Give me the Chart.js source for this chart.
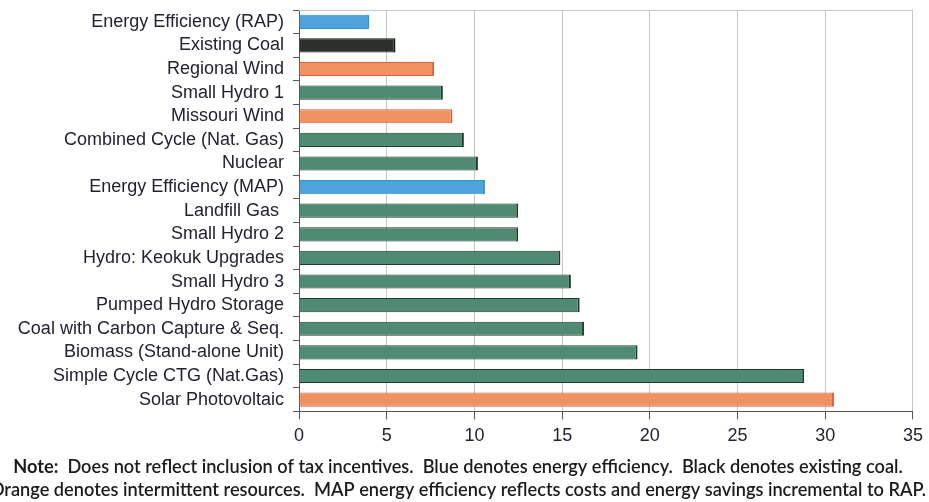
<!DOCTYPE html>
<html>
<head>
<meta charset="utf-8">
<script src="https://cdn.jsdelivr.net/npm/chart.js@4/dist/chart.umd.min.js"></script>
<style>
  html, body { margin: 0; padding: 0; background: #fff; overflow: hidden; }
  #wrap { width: 929px; height: 502px; position: relative; }
</style>
</head>
<body>
<div id="wrap"><canvas id="c"></canvas></div>
<script>
// Resources, ordered from cheapest to most expensive
const categories = [
  'Energy Efficiency (RAP)',
  'Existing Coal',
  'Regional Wind',
  'Small Hydro 1',
  'Missouri Wind',
  'Combined Cycle (Nat. Gas)',
  'Nuclear',
  'Energy Efficiency (MAP)',
  'Landfill Gas ',
  'Small Hydro 2',
  'Hydro: Keokuk Upgrades',
  'Small Hydro 3',
  'Pumped Hydro Storage',
  'Coal with Carbon Capture & Seq.',
  'Biomass (Stand-alone Unit)',
  'Simple Cycle CTG (Nat.Gas)',
  'Solar Photovoltaic'
];

// Levelized cost of each resource
const costValues = [4.0, 5.5, 7.7, 8.2, 8.75, 9.4, 10.2, 10.6, 12.5, 12.5, 14.9, 15.5, 16.0, 16.25, 19.3, 28.8, 30.5];

// Resource type of each bar (sets its colour)
const resourceType = [
  'efficiency', 'coal', 'intermittent', 'other', 'intermittent', 'other', 'other', 'efficiency',
  'other', 'other', 'other', 'other', 'other', 'other', 'other', 'other', 'intermittent'
];

const xTickValues = [0, 5, 10, 15, 20, 25, 30, 35];

const noteLines = [
  ['Note:', '  Does not reflect inclusion of tax incentives.  Blue denotes energy efficiency.  Black denotes existing coal.'],
  ['', 'Orange denotes intermittent resources.  MAP energy efficiency reflects costs and energy savings incremental to RAP.']
];

const fills = { efficiency: '#4ea3dc', coal: '#2b302c', intermittent: '#ef9160', other: '#4f8a72' };
const edges = { efficiency: '#3a8fcf', coal: '#141814', intermittent: '#d9603a', other: '#1f3d2f' };

// Top border of the plot area
const plotFrame = {
  id: 'plotFrame',
  afterDatasetsDraw(chart) {
    const { ctx, chartArea: a } = chart;
    ctx.save();
    ctx.strokeStyle = '#c6c6c6';
    ctx.lineWidth = 1;
    ctx.beginPath();
    ctx.moveTo(a.left, a.top + 0.5);
    ctx.lineTo(a.right, a.top + 0.5);
    ctx.stroke();
    ctx.restore();
  }
};

// Two-line footnote under the axis
const footNote = {
  id: 'footNote',
  afterDraw(chart) {
    const { ctx } = chart;
    const cx = 458;
    const ys = [467, 490];
    ctx.save();
    ctx.textBaseline = 'middle';
    ctx.fillStyle = '#1c1c1c';
    noteLines.forEach((parts, i) => {
      const boldFont = 'bold 18.2px Lato';
      const normFont = '600 18.2px Lato';
      ctx.font = boldFont;
      const w0 = ctx.measureText(parts[0]).width;
      ctx.font = normFont;
      const w1 = ctx.measureText(parts[1]).width;
      const x = cx - (w0 + w1) / 2;
      ctx.textAlign = 'left';
      ctx.font = boldFont;
      ctx.fillText(parts[0], x, ys[i]);
      ctx.font = normFont;
      ctx.fillText(parts[1], x + w0, ys[i]);
    });
    ctx.restore();
  }
};

new Chart(document.getElementById('c'), {
  type: 'bar',
  data: {
    labels: categories,
    datasets: [{
      data: costValues,
      backgroundColor: resourceType.map(t => fills[t]),
      borderColor: resourceType.map(t => edges[t]),
      borderWidth: { top: 1, bottom: 1, left: 0, right: 2 },
      borderSkipped: false,
      categoryPercentage: 1,
      barPercentage: 0.6
    }]
  },
  options: {
    indexAxis: 'y',
    responsive: true,
    maintainAspectRatio: false,
    animation: false,
    devicePixelRatio: 1,
    layout: { padding: { left: 10, right: 11, top: 10, bottom: 49 } },
    plugins: { legend: { display: false }, tooltip: { enabled: false } },
    scales: {
      y: {
        afterFit(scale) {
          scale.width = 289;
          scale.paddingTop = 0;
          scale.paddingBottom = 0;
        },
        ticks: { font: { family: 'Liberation Sans', size: 18 }, color: '#222233', padding: 9, autoSkip: false },
        grid: { drawOnChartArea: false, offset: true, tickLength: 6, color: '#555' },
        border: { color: '#555', width: 1 }
      },
      x: {
        min: 0,
        max: 35,
        afterBuildTicks(scale) { scale.ticks = xTickValues.map(v => ({ value: v })); },
        ticks: { font: { family: 'Liberation Sans', size: 18 }, color: '#222233', padding: 6 },
        grid: { color: '#c6c6c6', tickColor: '#555', tickLength: 8 },
        border: { color: '#555', width: 1 }
      }
    }
  },
  plugins: [plotFrame, footNote]
});
</script>
</body>
</html>
